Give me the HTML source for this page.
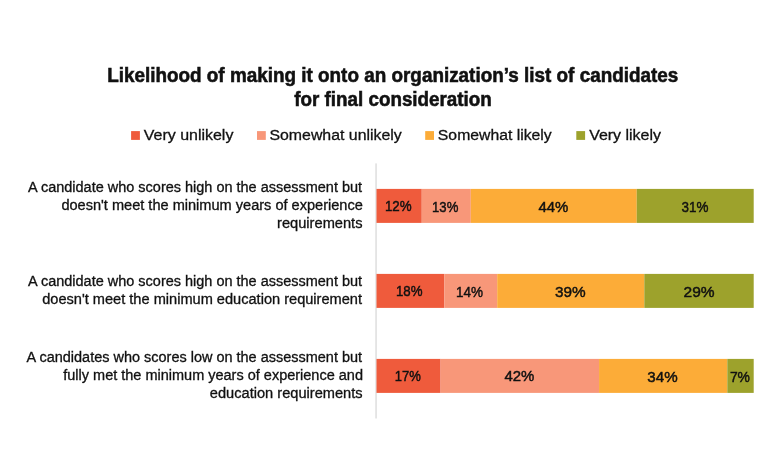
<!DOCTYPE html>
<html><head><meta charset="utf-8"><title>Likelihood chart</title>
<style>html,body{margin:0;padding:0;background:#fff}svg{display:block}text{font-family:"Liberation Sans",sans-serif;fill:#111;stroke:#111;stroke-width:0.3}text.t{stroke-width:0.55}text.d{stroke-width:0.45}</style></head><body>
<svg width="781" height="474" viewBox="0 0 781 474">
<rect width="781" height="474" fill="#fff"/>
<rect x="375.4" y="163.4" width="1.3" height="255.1" fill="#d9d9d9"/>
<rect x="131.1" y="131.1" width="8.8" height="8.8" fill="#EF5B3C"/>
<rect x="257" y="131.1" width="8.8" height="8.8" fill="#F89779"/>
<rect x="425.2" y="131.1" width="8.8" height="8.8" fill="#FCAC38"/>
<rect x="576.3" y="131.1" width="8.8" height="8.8" fill="#9DA22C"/>
<rect x="376.50" y="188.9" width="45.26" height="34" fill="#EF5B3C"/>
<rect x="421.76" y="188.9" width="49.04" height="34" fill="#F89779"/>
<rect x="470.80" y="188.9" width="165.97" height="34" fill="#FCAC38"/>
<rect x="636.77" y="188.9" width="116.93" height="34" fill="#9DA22C"/>
<rect x="376.50" y="273.9" width="67.90" height="34" fill="#EF5B3C"/>
<rect x="444.40" y="273.9" width="52.81" height="34" fill="#F89779"/>
<rect x="497.20" y="273.9" width="147.11" height="34" fill="#FCAC38"/>
<rect x="644.31" y="273.9" width="109.39" height="34" fill="#9DA22C"/>
<rect x="376.50" y="358.9" width="64.12" height="34" fill="#EF5B3C"/>
<rect x="440.62" y="358.9" width="158.42" height="34" fill="#F89779"/>
<rect x="599.05" y="358.9" width="128.25" height="34" fill="#FCAC38"/>
<rect x="727.30" y="358.9" width="26.40" height="34" fill="#9DA22C"/>
<text x="107.14" y="82" font-size="19.4" textLength="571.18" lengthAdjust="spacingAndGlyphs" font-weight="bold" class="t">Likelihood of making it onto an organization’s list of candidates</text>
<text x="294.29" y="106" font-size="19.4" textLength="197.48" lengthAdjust="spacingAndGlyphs" font-weight="bold" class="t">for final consideration</text>
<text x="143.78" y="140" font-size="15.3" textLength="89.61" lengthAdjust="spacingAndGlyphs">Very unlikely</text>
<text x="269.43" y="140" font-size="15.3" textLength="132.39" lengthAdjust="spacingAndGlyphs">Somewhat unlikely</text>
<text x="437.85" y="140" font-size="15.3" textLength="113.91" lengthAdjust="spacingAndGlyphs">Somewhat likely</text>
<text x="589.15" y="140" font-size="15.3" textLength="71.87" lengthAdjust="spacingAndGlyphs">Very likely</text>
<text x="28.09" y="192" font-size="13.8" textLength="334.0" lengthAdjust="spacingAndGlyphs">A candidate who scores high on the assessment but</text>
<text x="61.41" y="210" font-size="13.8" textLength="301.43" lengthAdjust="spacingAndGlyphs">doesn't meet the minimum years of experience</text>
<text x="277.07" y="228" font-size="13.8" textLength="85.46" lengthAdjust="spacingAndGlyphs">requirements</text>
<text x="28.09" y="286" font-size="13.8" textLength="334.0" lengthAdjust="spacingAndGlyphs">A candidate who scores high on the assessment but</text>
<text x="42.2" y="304" font-size="13.8" textLength="319.82" lengthAdjust="spacingAndGlyphs">doesn't meet the minimum education requirement</text>
<text x="26.56" y="362" font-size="13.8" textLength="335.53" lengthAdjust="spacingAndGlyphs">A candidates who scores low on the assessment but</text>
<text x="63.28" y="380" font-size="13.8" textLength="299.68" lengthAdjust="spacingAndGlyphs">fully met the minimum years of experience and</text>
<text x="209.86" y="398" font-size="13.8" textLength="152.68" lengthAdjust="spacingAndGlyphs">education requirements</text>
<text x="384.89" y="211" font-size="15" textLength="26.74" lengthAdjust="spacingAndGlyphs" class="d">12%</text>
<text x="432.06" y="212" font-size="15" textLength="26.27" lengthAdjust="spacingAndGlyphs" class="d">13%</text>
<text x="538.45" y="212" font-size="15" textLength="29.9" lengthAdjust="spacingAndGlyphs" class="d">44%</text>
<text x="681.51" y="212" font-size="15" textLength="26.91" lengthAdjust="spacingAndGlyphs" class="d">31%</text>
<text x="395.93" y="296" font-size="15" textLength="26.57" lengthAdjust="spacingAndGlyphs" class="d">18%</text>
<text x="455.97" y="297" font-size="15" textLength="27.08" lengthAdjust="spacingAndGlyphs" class="d">14%</text>
<text x="554.98" y="297" font-size="15" textLength="30.7" lengthAdjust="spacingAndGlyphs" class="d">39%</text>
<text x="683.59" y="297" font-size="15" textLength="31.05" lengthAdjust="spacingAndGlyphs" class="d">29%</text>
<text x="394.68" y="381" font-size="15" textLength="26.14" lengthAdjust="spacingAndGlyphs" class="d">17%</text>
<text x="504.51" y="381" font-size="15" textLength="29.9" lengthAdjust="spacingAndGlyphs" class="d">42%</text>
<text x="647.36" y="382" font-size="15" textLength="30.3" lengthAdjust="spacingAndGlyphs" class="d">34%</text>
<text x="729.89" y="382" font-size="15" textLength="20.07" lengthAdjust="spacingAndGlyphs" class="d">7%</text>
</svg></body></html>
